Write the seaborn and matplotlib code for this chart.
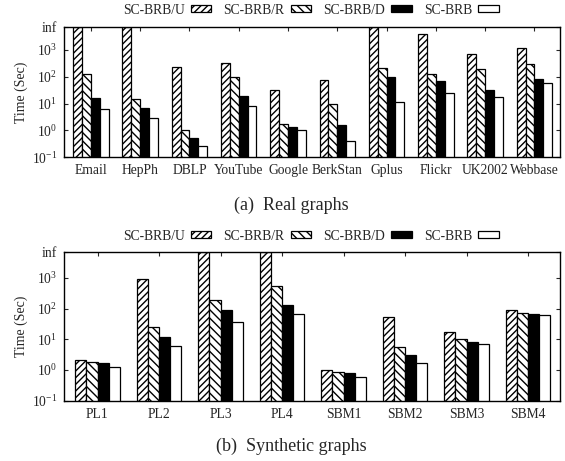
import numpy as np
import pandas as pd
import seaborn as sns
import matplotlib
matplotlib.use("Agg")
import matplotlib.pyplot as plt

INF = 7200.0

methods = ["SC-BRB/U", "SC-BRB/R", "SC-BRB/D", "SC-BRB"]

real_names = ["Email", "HepPh", "DBLP", "YouTube", "Google", "BerkStan",
              "Gplus", "Flickr", "UK2002", "Webbase"]
real_u = [INF, INF, 234, 310, 33, 78, INF, 3700, 710, 1180]
real_r = [123, 15.3, 1.0, 100, 1.77, 9.2, 204, 129, 192, 295]
real_d = [16, 7.1, 0.5, 19, 1.3, 1.6, 100, 71, 32, 79]
real_b = [6.5, 3.0, 0.26, 8, 1.0, 0.39, 11.8, 24, 18, 60]

syn_names = ["PL1", "PL2", "PL3", "PL4", "SBM1", "SBM2", "SBM3", "SBM4"]
syn_u = [2.14, 930, INF, INF, 0.98, 55, 17, 90]
syn_r = [1.88, 25, 186, 550, 0.89, 5.5, 10, 74]
syn_d = [1.7, 11.8, 90, 131, 0.8, 3.0, 8.3, 66]
syn_b = [1.23, 6.3, 38, 65, 0.58, 1.66, 6.9, 62]

ytick_vals = [0.1, 1, 10, 100, 1000, INF]
ytick_labels = [r"$10^{-1}$", r"$10^{0}$", r"$10^{1}$", r"$10^{2}$", r"$10^{3}$", "inf"]

sns.set_theme(style="ticks")
plt.rcParams["font.family"] = ["Liberation Serif", "DejaVu Serif"]
plt.rcParams["mathtext.fontset"] = "custom"
plt.rcParams["mathtext.rm"] = "Liberation Serif"
plt.rcParams["mathtext.it"] = "Liberation Serif:italic"

facecolors = ["white", "white", "black", "white"]
hatches = ["/////", "\\\\\\\\", "", ""]


def make_df(names, u, r, d, b):
    rows = []
    for series, vals in zip(methods, [u, r, d, b]):
        for n, v in zip(names, vals):
            rows.append({"dataset": n, "method": series, "time": v})
    return pd.DataFrame(rows)


fig = plt.figure(figsize=(5.65, 4.61), dpi=100)
ax1 = fig.add_axes([0.1138, 0.6588, 0.9912 - 0.1138, 0.9421 - 0.6588])
ax2 = fig.add_axes([0.1138, 0.1308, 0.9912 - 0.1138, 0.454 - 0.1308])


def draw(ax, names, u, r, d, b, legend_y, caption, caption_y):
    df = make_df(names, u, r, d, b)
    sns.barplot(data=df, x="dataset", y="time", hue="method", order=names,
                hue_order=methods, palette=facecolors, width=0.72,
                edgecolor="black", linewidth=0.9, legend=False, ax=ax,
                saturation=1)
    for cont, fc, h in zip(ax.containers, facecolors, hatches):
        for p in cont.patches:
            p.set_facecolor(fc)
            p.set_edgecolor("black")
            p.set_hatch(h)
    ax.set_yscale("log")
    ax.set_ylim(0.1, INF)
    ax.set_xlim(-0.54, len(names) - 0.48)
    ax.set_yticks(ytick_vals)
    ax.set_yticklabels(ytick_labels)
    ax.minorticks_off()
    ax.set_xlabel("")
    ax.set_ylabel("Time (Sec)", fontsize=10, labelpad=3)
    ax.tick_params(direction="in", length=3, width=0.8, labelsize=9.8,
                   top=True, right=True, pad=5)
    for s in ax.spines.values():
        s.set_linewidth(1.0)
        s.set_color("black")
    handles = [c.patches[0] for c in ax.containers]
    fig.legend(handles, methods, loc="center", bbox_to_anchor=(0.55, legend_y),
               ncol=4, frameon=False, markerfirst=False, fontsize=9.8,
               handlelength=1.5, handleheight=0.45, handletextpad=0.45,
               columnspacing=0.9, borderaxespad=0, borderpad=0)
    fig.text(0.516, caption_y, caption, ha="center", va="center", fontsize=13)


draw(ax1, real_names, real_u, real_r, real_d, real_b, 0.978,
     "(a)  Real graphs", 1 - 205 / 461)
draw(ax2, syn_names, syn_u, syn_r, syn_d, syn_b, 0.488,
     "(b)  Synthetic graphs", 1 - 446 / 461)

fig.savefig("out.png", dpi=100)
